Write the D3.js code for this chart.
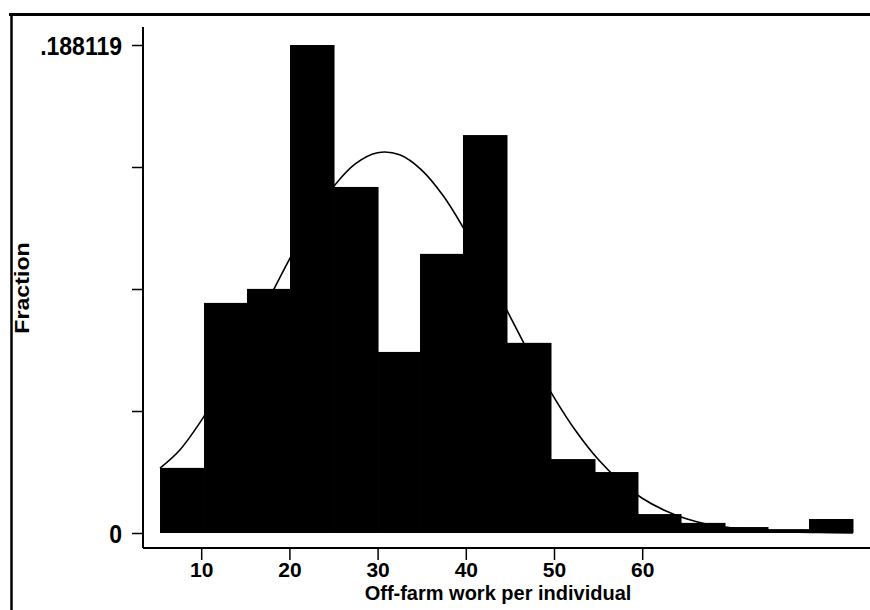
<!DOCTYPE html>
<html>
<head>
<meta charset="utf-8">
<script src="https://cdn.jsdelivr.net/npm/d3@7"></script>
<style>
  html, body { margin: 0; padding: 0; background: #fff; }
  svg { display: block; }
  text { font-family: "Liberation Sans", Arial, Helvetica, sans-serif; font-weight: bold; fill: #000; }
</style>
</head>
<body>
<svg id="chart" width="870" height="610"></svg>
<script>
// ---- data ----
const binEdges = [5.33, 10.32, 15.19, 20.07, 25.06, 30.05, 34.81, 39.68, 44.67, 49.66, 54.65, 59.52, 64.40, 69.39, 74.26, 78.91, 83.90];
const fractions = [0.0251, 0.0887, 0.0941, 0.188119, 0.1334, 0.0698, 0.1076, 0.1534, 0.0733, 0.0285, 0.0235, 0.0073, 0.0039, 0.0023, 0.0015, 0.0054];
const curveX = [5.33, 7.5, 10, 12.5, 15, 17.5, 20, 22.5, 25, 27.5, 30, 32.5, 35, 37.5, 40, 42.5, 45, 47.5, 50, 52.5, 55, 57.5, 60, 62.5, 65, 67.5, 70, 72.5, 75, 80, 83.9];
const curveY = [0.0250, 0.0317, 0.0433, 0.0570, 0.0725, 0.0891, 0.1055, 0.1208, 0.1335, 0.1424, 0.1466, 0.1458, 0.1399, 0.1297, 0.1160, 0.1002, 0.0836, 0.0673, 0.0523, 0.0392, 0.0284, 0.0199, 0.0134, 0.0088, 0.0055, 0.0033, 0.0020, 0.0011, 0.0006, 0.0002, 0.0000];
const xTickValues = [10, 20, 30, 40, 50, 60];
const yTickValues = [0, 0.04703, 0.09406, 0.14109, 0.188119];
const yTickLabels = ["0", "", "", "", ".188119"];
const xTitle = "Off-farm work per individual";
const yTitle = "Fraction";

// ---- layout ----
const svg = d3.select("#chart");
const x = d3.scaleLinear().domain([0, 80]).range([113, 818.6]);
const y = d3.scaleLinear().domain([0, 0.188119]).range([533, 45]);
const axisY = 548;   // x-axis line position
const axisX = 143;   // y-axis line position
const sy = 1.13;     // vertical stretch of the scanned lettering

// outer frame (top + left)
svg.append("line").attr("x1", 9).attr("x2", 870).attr("y1", 14.5).attr("y2", 14.5)
  .attr("stroke", "#000").attr("stroke-width", 3);
svg.append("line").attr("x1", 11.5).attr("x2", 11.5).attr("y1", 13).attr("y2", 610)
  .attr("stroke", "#000").attr("stroke-width", 2.5);

// bars
const bins = fractions.map((f, i) => ({ x0: binEdges[i], x1: binEdges[i + 1], f }));
svg.append("g").selectAll("rect").data(bins).join("rect")
  .attr("x", d => x(d.x0))
  .attr("width", d => x(d.x1) - x(d.x0) + 0.5)
  .attr("y", d => y(d.f))
  .attr("height", d => y(0) - y(d.f))
  .attr("fill", "#000");

// normal curve
const line = d3.line().x((d, i) => x(curveX[i])).y(d => y(d)).curve(d3.curveCatmullRom.alpha(0.5));
svg.append("path").datum(curveY).attr("d", line)
  .attr("fill", "none").attr("stroke", "#000").attr("stroke-width", 1.6);

// x axis
const xAxis = d3.axisBottom(x).tickValues(xTickValues).tickSize(12).tickSizeOuter(0);
const gx = svg.append("g").attr("transform", `translate(0,${axisY})`).call(xAxis);
gx.select(".domain").attr("d", `M${axisX},0H870`).attr("stroke-width", 2);
gx.selectAll(".tick line").attr("stroke-width", 1.5);
gx.selectAll(".tick text")
  .attr("font-size", 21).attr("font-family", "Liberation Sans, Arial, sans-serif").attr("font-weight", "bold")
  .attr("dy", null).attr("y", 28.5);

// y axis
const yAxis = d3.axisLeft(y).tickValues(yTickValues).tickFormat((d, i) => yTickLabels[i]).tickSize(11).tickSizeOuter(0);
const gy = svg.append("g").attr("transform", `translate(${axisX},0)`).call(yAxis);
gy.select(".domain").attr("d", `M0,27V${axisY}`).attr("stroke-width", 2);
gy.selectAll(".tick line").attr("stroke-width", 1.5);
gy.selectAll(".tick text")
  .attr("font-size", 23).attr("font-family", "Liberation Sans, Arial, sans-serif").attr("font-weight", "bold")
  .attr("x", -21).attr("dy", null).attr("y", 9 / sy).attr("transform", `scale(1,${sy})`);

// titles
svg.append("text").attr("transform", "translate(498,600) scale(1,1.05)").attr("text-anchor", "middle")
  .attr("font-size", 20).text(xTitle);
svg.append("text").attr("transform", `translate(29,288) rotate(-90) scale(${sy},1)`).attr("text-anchor", "middle")
  .attr("font-size", 20.5).text(yTitle);
</script>
</body>
</html>
